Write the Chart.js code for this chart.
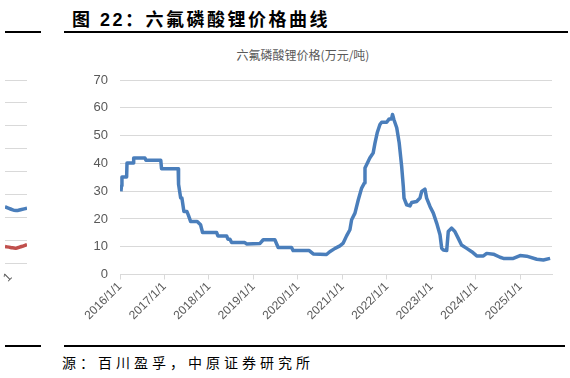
<!DOCTYPE html>
<html>
<head>
<meta charset="utf-8">
<script src="https://cdn.jsdelivr.net/npm/chart.js@4"></script>
<style>
  body { margin: 0; background: #fff; width: 570px; height: 378px; overflow: hidden; position: relative; font-family: "Liberation Sans", "Noto Sans CJK SC", sans-serif; }
  .abs { position: absolute; }
  .rule { position: absolute; height: 2px; background: #000; }
  #title { left: 72px; top: 5px; font-size: 18px; font-weight: bold; letter-spacing: 2.5px; white-space: nowrap; font-family: "Liberation Sans", "Noto Sans CJK SC", sans-serif; }
  #chartTitle { left: 0; width: 606px; top: 46px; text-align: center; font-size: 12px; color: #595959; font-family: "Noto Sans CJK SC", sans-serif; white-space: nowrap; }
  #source { left: 62px; top: 352px; font-size: 14px; letter-spacing: 4px; white-space: nowrap; font-family: "Noto Sans CJK SC", sans-serif; }
  #cut { left: 4px; top: 270px; font-size: 12px; color: #595959; transform: rotate(-45deg); }
</style>
</head>
<body>
<div id="title" class="abs">图 22：六氟磷酸锂价格曲线</div>
<div class="rule" style="left:5px; width:36px; top:31px;"></div>
<div class="rule" style="left:64px; width:504px; top:31px;"></div>
<div id="chartTitle" class="abs">六氟磷酸锂价格(万元/吨)</div>

<div class="abs" style="left:0; top:0; width:570px; height:340px;"><canvas id="priceChart"></canvas></div>
<div class="abs" style="left:5px; top:76px; width:22px; height:192px;"><canvas id="sideChart"></canvas></div>
<div id="cut" class="abs">1</div>

<div class="rule" style="left:5px; width:36px; top:345px;"></div>
<div class="rule" style="left:64px; width:501px; top:345px;"></div>
<div id="source" class="abs">源：百川盈孚，中原证券研究所</div>

<script>
// 六氟磷酸锂价格 (万元/吨)
const dates = [
    "2016/1/9", "2016/1/13", "2016/1/17", "2016/2/25", "2016/2/28", "2016/4/18", "2016/4/22", "2016/7/23", "2016/8/1", "2016/12/1", "2016/12/7",
    "2017/4/22", "2017/4/25", "2017/5/12", "2017/5/22", "2017/6/8", "2017/7/2", "2017/7/15", "2017/8/2", "2017/9/26", "2017/10/23", "2017/11/9",
    "2018/3/3", "2018/3/13", "2018/5/24", "2018/6/4", "2018/6/21", "2018/7/4", "2018/10/21", "2018/11/5",
    "2019/2/24", "2019/3/20", "2019/6/24", "2019/7/21", "2019/11/9", "2019/11/22",
    "2020/4/2", "2020/5/4", "2020/8/22", "2020/9/18", "2020/10/31", "2020/12/10",
    "2021/1/7", "2021/2/4", "2021/3/1", "2021/3/15", "2021/4/12", "2021/5/9", "2021/6/6", "2021/6/28", "2021/7/3", "2021/7/16", "2021/8/12", "2021/9/9", "2021/9/24", "2021/10/12", "2021/11/4", "2021/11/18", "2021/12/29",
    "2022/1/19", "2022/2/8", "2022/2/16", "2022/2/27", "2022/3/20", "2022/4/10", "2022/4/30", "2022/5/13", "2022/5/19", "2022/6/10", "2022/7/7", "2022/7/21", "2022/9/1", "2022/9/28", "2022/10/12", "2022/11/8", "2022/11/22", "2022/12/19",
    "2023/1/16", "2023/2/13", "2023/3/10", "2023/3/24", "2023/4/7", "2023/5/4", "2023/5/17", "2023/6/13", "2023/7/10", "2023/8/7", "2023/9/4", "2023/10/16", "2023/11/27",
    "2024/1/7", "2024/3/1", "2024/3/28", "2024/5/22", "2024/7/16", "2024/8/13", "2024/11/3", "2024/12/28",
    "2025/2/21", "2025/5/13", "2025/7/6", "2025/8/31"
];
const prices = [
    29.9, 31.9, 35.1, 35.1, 40.1, 40.1, 41.9, 41.9, 41.1, 41.1, 38.1,
    38.1, 32.5, 27.5, 27.5, 22.7, 22.7, 21.3, 19.1, 19.1, 17.9, 15.1,
    15.1, 13.9, 13.9, 12.7, 12.7, 11.5, 11.5, 11.0,
    11.2, 12.5, 12.5, 9.7, 9.7, 8.6,
    8.6, 7.4, 7.2, 8.2, 9.4, 10.3,
    11.3, 13.9, 16.1, 19.7, 22.1, 26.9, 31.1, 32.9, 38.3, 39.5, 41.9, 43.7, 47.3, 51.0, 54.0, 54.8, 54.8,
    56.0, 56.0, 57.6, 55.8, 52.8, 47.3, 38.9, 31.7, 27.5, 25.1, 24.7, 25.9, 26.3, 27.5, 29.9, 30.7, 27.5, 24.5,
    22.1, 18.5, 14.3, 9.4, 8.8, 8.6, 15.5, 16.7, 15.5, 13.1, 10.6, 9.4, 8.2,
    6.7, 6.7, 7.6, 7.3, 6.2, 5.8, 5.8, 6.8,
    6.6, 5.5, 5.2, 5.8
];
const yearTicks = [2016, 2017, 2018, 2019, 2020, 2021, 2022, 2023, 2024, 2025];

// cut-off neighbour chart on the left edge
const sideLabels = ["a", "b", "c", "d", "e"];
const sideBlue = [2.46, 2.36, 2.29, 2.34, 2.39];
const sideRed = [0.72, 0.68, 0.65, 0.72, 0.8];

function toYear(s) {
    const p = s.split("/").map(Number);
    return p[0] + (p[1] - 1) / 12 + (p[2] - 1) / 365;
}

const points = dates.map((d, i) => ({ x: toYear(d), y: prices[i] }));
const gridColor = "#d9d9d9";
const textColor = "#595959";

Chart.defaults.font.family = "'Liberation Sans', Arial, sans-serif";
Chart.defaults.color = textColor;

new Chart(document.getElementById("priceChart"), {
    type: "line",
    data: {
        datasets: [{
            data: points,
            borderColor: "#4a7ebb",
            borderWidth: 3.5,
            pointRadius: 0,
            borderJoinStyle: "round",
            tension: 0
        }]
    },
    options: {
        responsive: true,
        maintainAspectRatio: false,
        animation: false,
        layout: { padding: { top: 80, right: 18, left: 0, bottom: 0 } },
        plugins: { legend: { display: false }, tooltip: { enabled: false } },
        scales: {
            x: {
                type: "linear",
                min: 2016,
                max: 2025.708,
                afterFit: (scale) => { scale.height = 65.5; },
                afterBuildTicks: (scale) => {
                    scale.ticks = yearTicks.map((v) => ({ value: v }));
                },
                ticks: {
                    minRotation: 45,
                    maxRotation: 45,
                    padding: 0,
                    font: { size: 12 },
                    color: textColor,
                    callback: (v) => v + "/1/1"
                },
                grid: { drawOnChartArea: false, drawTicks: true, tickLength: 5, color: gridColor },
                border: { color: gridColor, width: 1 }
            },
            y: {
                min: 0,
                max: 70,
                afterFit: (scale) => { scale.width = 120; },
                ticks: { stepSize: 10, padding: 12, font: { size: 13 }, color: textColor },
                grid: { color: gridColor, drawTicks: false },
                border: { display: false }
            }
        }
    }
});

new Chart(document.getElementById("sideChart"), {
    type: "line",
    data: {
        labels: sideLabels,
        datasets: [
            { data: sideBlue, borderColor: "#4a7ebb", borderWidth: 3.5, pointRadius: 0, tension: 0.4 },
            { data: sideRed, borderColor: "#c0504d", borderWidth: 3.5, pointRadius: 0, tension: 0.4 }
        ]
    },
    options: {
        responsive: true,
        maintainAspectRatio: false,
        animation: false,
        layout: { padding: { top: 4, bottom: 5, left: 0, right: 0 } },
        plugins: { legend: { display: false }, tooltip: { enabled: false } },
        scales: {
            x: { display: false },
            y: {
                min: 0,
                max: 8,
                afterFit: (scale) => { scale.width = 0; },
                ticks: { display: false, stepSize: 1 },
                grid: { color: gridColor, drawTicks: false },
                border: { display: false }
            }
        }
    }
});
</script>
</body>
</html>
